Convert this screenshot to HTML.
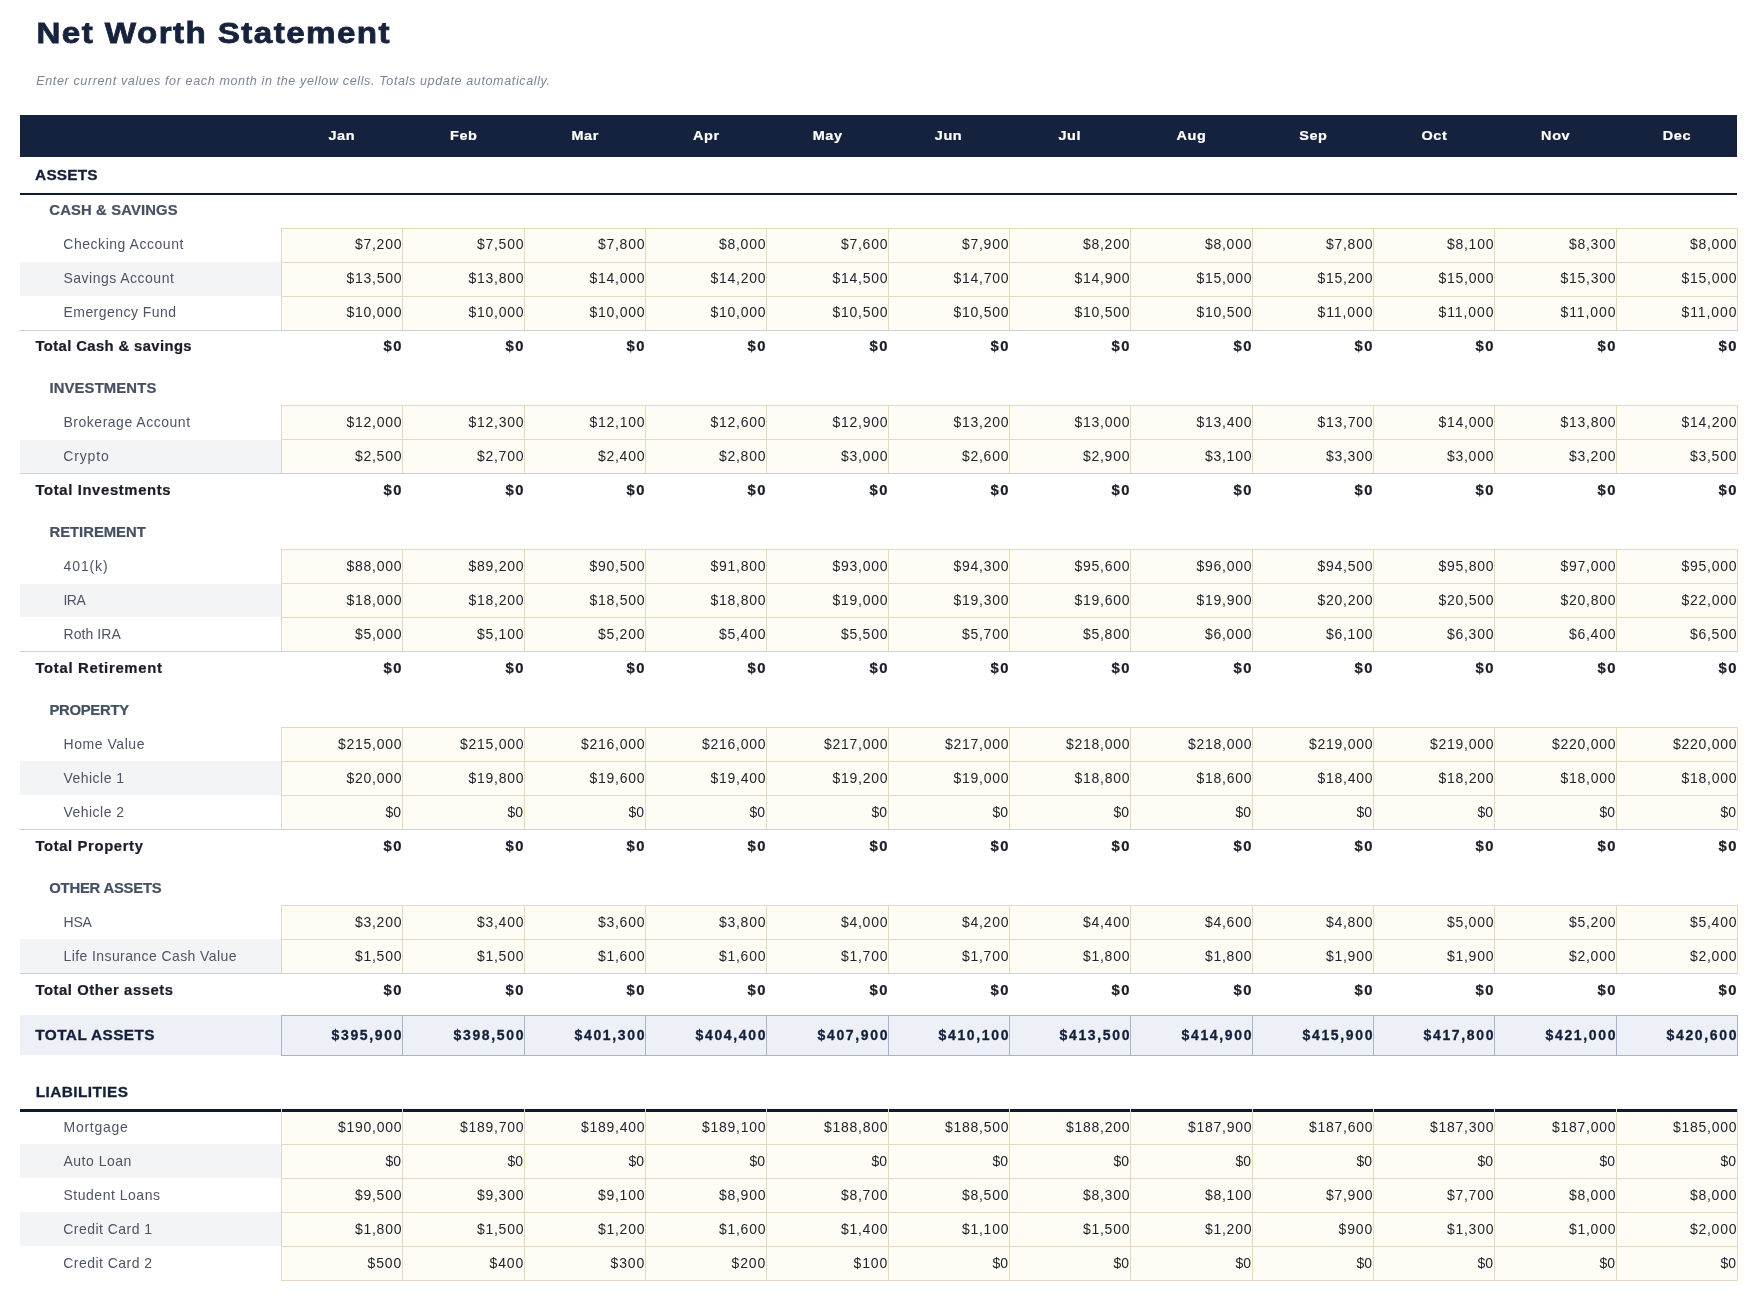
<!DOCTYPE html><html><head><meta charset="utf-8"><style>
html,body{margin:0;padding:0;background:#fff;width:1758px;height:1301px;overflow:hidden;position:relative}
div{position:absolute}
.t{white-space:pre;font-family:"Liberation Sans",sans-serif;line-height:0;height:0}
.title{font-size:29.600px;font-weight:700;font-style:normal;color:#17223d;-webkit-text-stroke:0.80px #17223d;transform-origin:0 0}
.sub{font-size:12.600px;font-weight:400;font-style:italic;color:#7b8598;-webkit-text-stroke:0.00px #7b8598}
.month{font-size:13.650px;font-weight:700;font-style:normal;color:#ffffff;-webkit-text-stroke:0.22px #ffffff;transform-origin:0 0}
.sect{font-size:15.404px;font-weight:700;font-style:normal;color:#141f3a;-webkit-text-stroke:0.30px #141f3a}
.subh{font-size:13.997px;font-weight:700;font-style:normal;color:#465063;-webkit-text-stroke:0.22px #465063;transform-origin:0 0}
.label{font-size:13.997px;font-weight:400;font-style:normal;color:#4d5464;-webkit-text-stroke:0.00px #4d5464}
.val{font-size:13.997px;font-weight:400;font-style:normal;color:#20242d;-webkit-text-stroke:0.00px #20242d}
.tlabel{font-size:13.997px;font-weight:700;font-style:normal;color:#1a1e28;-webkit-text-stroke:0.22px #1a1e28;transform-origin:0 0}
.tval{font-size:13.997px;font-weight:700;font-style:normal;color:#1a1e28;-webkit-text-stroke:0.22px #1a1e28;transform-origin:0 0}
.taval{font-size:13.997px;font-weight:700;font-style:normal;color:#141f3a;-webkit-text-stroke:0.30px #141f3a}
</style></head><body><div style="left:0;top:0;width:1758px;height:1301px;will-change:transform">
<div style="left:20px;top:115px;width:1717px;height:42px;background:#14223d"></div>
<div style="left:20px;top:193px;width:1717px;height:2px;background:#0e1933"></div>
<div style="left:281px;top:228px;width:1457px;height:34px;background:#fefcf4"></div>
<div style="left:20px;top:262px;width:261px;height:34px;background:#f3f4f6"></div>
<div style="left:281px;top:262px;width:1457px;height:34px;background:#fefcf4"></div>
<div style="left:281px;top:296px;width:1457px;height:34px;background:#fefcf4"></div>
<div style="left:281px;top:228px;width:1457px;height:1px;background:#e4dabb"></div>
<div style="left:281px;top:262px;width:1457px;height:1px;background:#e4dabb"></div>
<div style="left:281px;top:296px;width:1457px;height:1px;background:#e4dabb"></div>
<div style="left:281px;top:330px;width:1457px;height:1px;background:#e4dabb"></div>
<div style="left:281px;top:228px;width:1px;height:103px;background:#e4dabb"></div>
<div style="left:402px;top:228px;width:1px;height:103px;background:#e4dabb"></div>
<div style="left:524px;top:228px;width:1px;height:103px;background:#e4dabb"></div>
<div style="left:645px;top:228px;width:1px;height:103px;background:#e4dabb"></div>
<div style="left:766px;top:228px;width:1px;height:103px;background:#e4dabb"></div>
<div style="left:888px;top:228px;width:1px;height:103px;background:#e4dabb"></div>
<div style="left:1009px;top:228px;width:1px;height:103px;background:#e4dabb"></div>
<div style="left:1130px;top:228px;width:1px;height:103px;background:#e4dabb"></div>
<div style="left:1252px;top:228px;width:1px;height:103px;background:#e4dabb"></div>
<div style="left:1373px;top:228px;width:1px;height:103px;background:#e4dabb"></div>
<div style="left:1494px;top:228px;width:1px;height:103px;background:#e4dabb"></div>
<div style="left:1616px;top:228px;width:1px;height:103px;background:#e4dabb"></div>
<div style="left:1737px;top:228px;width:1px;height:103px;background:#e4dabb"></div>
<div style="left:20px;top:330px;width:1718px;height:1px;background:#cbd0db"></div>
<div style="left:281px;top:405px;width:1457px;height:34px;background:#fefcf4"></div>
<div style="left:20px;top:440px;width:261px;height:33px;background:#f3f4f6"></div>
<div style="left:281px;top:439px;width:1457px;height:34px;background:#fefcf4"></div>
<div style="left:281px;top:405px;width:1457px;height:1px;background:#e4dabb"></div>
<div style="left:281px;top:439px;width:1457px;height:1px;background:#e4dabb"></div>
<div style="left:281px;top:473px;width:1457px;height:1px;background:#e4dabb"></div>
<div style="left:281px;top:405px;width:1px;height:69px;background:#e4dabb"></div>
<div style="left:402px;top:405px;width:1px;height:69px;background:#e4dabb"></div>
<div style="left:524px;top:405px;width:1px;height:69px;background:#e4dabb"></div>
<div style="left:645px;top:405px;width:1px;height:69px;background:#e4dabb"></div>
<div style="left:766px;top:405px;width:1px;height:69px;background:#e4dabb"></div>
<div style="left:888px;top:405px;width:1px;height:69px;background:#e4dabb"></div>
<div style="left:1009px;top:405px;width:1px;height:69px;background:#e4dabb"></div>
<div style="left:1130px;top:405px;width:1px;height:69px;background:#e4dabb"></div>
<div style="left:1252px;top:405px;width:1px;height:69px;background:#e4dabb"></div>
<div style="left:1373px;top:405px;width:1px;height:69px;background:#e4dabb"></div>
<div style="left:1494px;top:405px;width:1px;height:69px;background:#e4dabb"></div>
<div style="left:1616px;top:405px;width:1px;height:69px;background:#e4dabb"></div>
<div style="left:1737px;top:405px;width:1px;height:69px;background:#e4dabb"></div>
<div style="left:20px;top:473px;width:1718px;height:1px;background:#cbd0db"></div>
<div style="left:281px;top:549px;width:1457px;height:34px;background:#fefcf4"></div>
<div style="left:20px;top:584px;width:261px;height:33px;background:#f3f4f6"></div>
<div style="left:281px;top:583px;width:1457px;height:34px;background:#fefcf4"></div>
<div style="left:281px;top:617px;width:1457px;height:34px;background:#fefcf4"></div>
<div style="left:281px;top:549px;width:1457px;height:1px;background:#e4dabb"></div>
<div style="left:281px;top:583px;width:1457px;height:1px;background:#e4dabb"></div>
<div style="left:281px;top:617px;width:1457px;height:1px;background:#e4dabb"></div>
<div style="left:281px;top:651px;width:1457px;height:1px;background:#e4dabb"></div>
<div style="left:281px;top:549px;width:1px;height:103px;background:#e4dabb"></div>
<div style="left:402px;top:549px;width:1px;height:103px;background:#e4dabb"></div>
<div style="left:524px;top:549px;width:1px;height:103px;background:#e4dabb"></div>
<div style="left:645px;top:549px;width:1px;height:103px;background:#e4dabb"></div>
<div style="left:766px;top:549px;width:1px;height:103px;background:#e4dabb"></div>
<div style="left:888px;top:549px;width:1px;height:103px;background:#e4dabb"></div>
<div style="left:1009px;top:549px;width:1px;height:103px;background:#e4dabb"></div>
<div style="left:1130px;top:549px;width:1px;height:103px;background:#e4dabb"></div>
<div style="left:1252px;top:549px;width:1px;height:103px;background:#e4dabb"></div>
<div style="left:1373px;top:549px;width:1px;height:103px;background:#e4dabb"></div>
<div style="left:1494px;top:549px;width:1px;height:103px;background:#e4dabb"></div>
<div style="left:1616px;top:549px;width:1px;height:103px;background:#e4dabb"></div>
<div style="left:1737px;top:549px;width:1px;height:103px;background:#e4dabb"></div>
<div style="left:20px;top:651px;width:1718px;height:1px;background:#cbd0db"></div>
<div style="left:281px;top:727px;width:1457px;height:34px;background:#fefcf4"></div>
<div style="left:20px;top:761px;width:261px;height:34px;background:#f3f4f6"></div>
<div style="left:281px;top:761px;width:1457px;height:34px;background:#fefcf4"></div>
<div style="left:281px;top:795px;width:1457px;height:34px;background:#fefcf4"></div>
<div style="left:281px;top:727px;width:1457px;height:1px;background:#e4dabb"></div>
<div style="left:281px;top:761px;width:1457px;height:1px;background:#e4dabb"></div>
<div style="left:281px;top:795px;width:1457px;height:1px;background:#e4dabb"></div>
<div style="left:281px;top:829px;width:1457px;height:1px;background:#e4dabb"></div>
<div style="left:281px;top:727px;width:1px;height:103px;background:#e4dabb"></div>
<div style="left:402px;top:727px;width:1px;height:103px;background:#e4dabb"></div>
<div style="left:524px;top:727px;width:1px;height:103px;background:#e4dabb"></div>
<div style="left:645px;top:727px;width:1px;height:103px;background:#e4dabb"></div>
<div style="left:766px;top:727px;width:1px;height:103px;background:#e4dabb"></div>
<div style="left:888px;top:727px;width:1px;height:103px;background:#e4dabb"></div>
<div style="left:1009px;top:727px;width:1px;height:103px;background:#e4dabb"></div>
<div style="left:1130px;top:727px;width:1px;height:103px;background:#e4dabb"></div>
<div style="left:1252px;top:727px;width:1px;height:103px;background:#e4dabb"></div>
<div style="left:1373px;top:727px;width:1px;height:103px;background:#e4dabb"></div>
<div style="left:1494px;top:727px;width:1px;height:103px;background:#e4dabb"></div>
<div style="left:1616px;top:727px;width:1px;height:103px;background:#e4dabb"></div>
<div style="left:1737px;top:727px;width:1px;height:103px;background:#e4dabb"></div>
<div style="left:20px;top:829px;width:1718px;height:1px;background:#cbd0db"></div>
<div style="left:281px;top:905px;width:1457px;height:34px;background:#fefcf4"></div>
<div style="left:20px;top:939px;width:261px;height:34px;background:#f3f4f6"></div>
<div style="left:281px;top:939px;width:1457px;height:34px;background:#fefcf4"></div>
<div style="left:281px;top:905px;width:1457px;height:1px;background:#e4dabb"></div>
<div style="left:281px;top:939px;width:1457px;height:1px;background:#e4dabb"></div>
<div style="left:281px;top:973px;width:1457px;height:1px;background:#e4dabb"></div>
<div style="left:281px;top:905px;width:1px;height:69px;background:#e4dabb"></div>
<div style="left:402px;top:905px;width:1px;height:69px;background:#e4dabb"></div>
<div style="left:524px;top:905px;width:1px;height:69px;background:#e4dabb"></div>
<div style="left:645px;top:905px;width:1px;height:69px;background:#e4dabb"></div>
<div style="left:766px;top:905px;width:1px;height:69px;background:#e4dabb"></div>
<div style="left:888px;top:905px;width:1px;height:69px;background:#e4dabb"></div>
<div style="left:1009px;top:905px;width:1px;height:69px;background:#e4dabb"></div>
<div style="left:1130px;top:905px;width:1px;height:69px;background:#e4dabb"></div>
<div style="left:1252px;top:905px;width:1px;height:69px;background:#e4dabb"></div>
<div style="left:1373px;top:905px;width:1px;height:69px;background:#e4dabb"></div>
<div style="left:1494px;top:905px;width:1px;height:69px;background:#e4dabb"></div>
<div style="left:1616px;top:905px;width:1px;height:69px;background:#e4dabb"></div>
<div style="left:1737px;top:905px;width:1px;height:69px;background:#e4dabb"></div>
<div style="left:20px;top:973px;width:1718px;height:1px;background:#cbd0db"></div>
<div style="left:20px;top:1015px;width:261px;height:40px;background:#edf0f7"></div>
<div style="left:281px;top:1015px;width:1457px;height:41px;background:#edf0f7"></div>
<div style="left:281px;top:1015px;width:1px;height:41px;background:#aab2cb"></div>
<div style="left:402px;top:1015px;width:1px;height:41px;background:#aab2cb"></div>
<div style="left:524px;top:1015px;width:1px;height:41px;background:#aab2cb"></div>
<div style="left:645px;top:1015px;width:1px;height:41px;background:#aab2cb"></div>
<div style="left:766px;top:1015px;width:1px;height:41px;background:#aab2cb"></div>
<div style="left:888px;top:1015px;width:1px;height:41px;background:#aab2cb"></div>
<div style="left:1009px;top:1015px;width:1px;height:41px;background:#aab2cb"></div>
<div style="left:1130px;top:1015px;width:1px;height:41px;background:#aab2cb"></div>
<div style="left:1252px;top:1015px;width:1px;height:41px;background:#aab2cb"></div>
<div style="left:1373px;top:1015px;width:1px;height:41px;background:#aab2cb"></div>
<div style="left:1494px;top:1015px;width:1px;height:41px;background:#aab2cb"></div>
<div style="left:1616px;top:1015px;width:1px;height:41px;background:#aab2cb"></div>
<div style="left:1737px;top:1015px;width:1px;height:41px;background:#aab2cb"></div>
<div style="left:281px;top:1015px;width:1457px;height:1px;background:#aab2cb"></div>
<div style="left:281px;top:1055px;width:1457px;height:1px;background:#aab2cb"></div>
<div style="left:281px;top:1110px;width:1457px;height:34px;background:#fefcf4"></div>
<div style="left:20px;top:1144px;width:261px;height:34px;background:#f3f4f6"></div>
<div style="left:281px;top:1144px;width:1457px;height:34px;background:#fefcf4"></div>
<div style="left:281px;top:1178px;width:1457px;height:34px;background:#fefcf4"></div>
<div style="left:20px;top:1212px;width:261px;height:34px;background:#f3f4f6"></div>
<div style="left:281px;top:1212px;width:1457px;height:34px;background:#fefcf4"></div>
<div style="left:281px;top:1246px;width:1457px;height:34px;background:#fefcf4"></div>
<div style="left:281px;top:1144px;width:1457px;height:1px;background:#e4dabb"></div>
<div style="left:281px;top:1178px;width:1457px;height:1px;background:#e4dabb"></div>
<div style="left:281px;top:1212px;width:1457px;height:1px;background:#e4dabb"></div>
<div style="left:281px;top:1246px;width:1457px;height:1px;background:#e4dabb"></div>
<div style="left:281px;top:1280px;width:1457px;height:1px;background:#e4dabb"></div>
<div style="left:281px;top:1110px;width:1px;height:171px;background:#e4dabb"></div>
<div style="left:402px;top:1110px;width:1px;height:171px;background:#e4dabb"></div>
<div style="left:524px;top:1110px;width:1px;height:171px;background:#e4dabb"></div>
<div style="left:645px;top:1110px;width:1px;height:171px;background:#e4dabb"></div>
<div style="left:766px;top:1110px;width:1px;height:171px;background:#e4dabb"></div>
<div style="left:888px;top:1110px;width:1px;height:171px;background:#e4dabb"></div>
<div style="left:1009px;top:1110px;width:1px;height:171px;background:#e4dabb"></div>
<div style="left:1130px;top:1110px;width:1px;height:171px;background:#e4dabb"></div>
<div style="left:1252px;top:1110px;width:1px;height:171px;background:#e4dabb"></div>
<div style="left:1373px;top:1110px;width:1px;height:171px;background:#e4dabb"></div>
<div style="left:1494px;top:1110px;width:1px;height:171px;background:#e4dabb"></div>
<div style="left:1616px;top:1110px;width:1px;height:171px;background:#e4dabb"></div>
<div style="left:1737px;top:1110px;width:1px;height:171px;background:#e4dabb"></div>
<div style="left:20px;top:1109px;width:1718px;height:3px;background:#0e1933"></div>
<div style="left:281px;top:1109px;width:1px;height:3px;background:#e4dabb"></div>
<div style="left:402px;top:1109px;width:1px;height:3px;background:#e4dabb"></div>
<div style="left:524px;top:1109px;width:1px;height:3px;background:#e4dabb"></div>
<div style="left:645px;top:1109px;width:1px;height:3px;background:#e4dabb"></div>
<div style="left:766px;top:1109px;width:1px;height:3px;background:#e4dabb"></div>
<div style="left:888px;top:1109px;width:1px;height:3px;background:#e4dabb"></div>
<div style="left:1009px;top:1109px;width:1px;height:3px;background:#e4dabb"></div>
<div style="left:1130px;top:1109px;width:1px;height:3px;background:#e4dabb"></div>
<div style="left:1252px;top:1109px;width:1px;height:3px;background:#e4dabb"></div>
<div style="left:1373px;top:1109px;width:1px;height:3px;background:#e4dabb"></div>
<div style="left:1494px;top:1109px;width:1px;height:3px;background:#e4dabb"></div>
<div style="left:1616px;top:1109px;width:1px;height:3px;background:#e4dabb"></div>
<div style="left:1737px;top:1109px;width:1px;height:3px;background:#e4dabb"></div>
<div class="t title" style="left:36px;top:32.74px;letter-spacing:1.282px;transform:translateX(0.48px) scaleX(1.12)">Net Worth Statement</div>
<div class="t sub" style="left:36.19px;top:80.63px;letter-spacing:0.601px">Enter current values for each month in the yellow cells. Totals update automatically.</div>
<div class="t month" style="left:328px;top:136.27px;letter-spacing:0.565px;transform:translateX(0.47px) scaleX(1.06)">Jan</div>
<div class="t month" style="left:450px;top:136.27px;letter-spacing:0.565px;transform:translateX(0.05px) scaleX(1.06)">Feb</div>
<div class="t month" style="left:571px;top:136.27px;letter-spacing:0.565px;transform:translateX(0.40px) scaleX(1.06)">Mar</div>
<div class="t month" style="left:692px;top:136.27px;letter-spacing:0.565px;transform:translateX(0.91px) scaleX(1.06)">Apr</div>
<div class="t month" style="left:812px;top:136.27px;letter-spacing:0.565px;transform:translateX(0.72px) scaleX(1.06)">May</div>
<div class="t month" style="left:934px;top:136.27px;letter-spacing:0.565px;transform:translateX(0.74px) scaleX(1.06)">Jun</div>
<div class="t month" style="left:1058px;top:136.27px;letter-spacing:0.565px;transform:translateX(0.46px) scaleX(1.06)">Jul</div>
<div class="t month" style="left:1176px;top:136.27px;letter-spacing:0.565px;transform:translateX(0.53px) scaleX(1.06)">Aug</div>
<div class="t month" style="left:1299px;top:136.27px;letter-spacing:0.565px;transform:translateX(0.20px) scaleX(1.06)">Sep</div>
<div class="t month" style="left:1421px;top:136.27px;letter-spacing:0.565px;transform:translateX(0.42px) scaleX(1.06)">Oct</div>
<div class="t month" style="left:1541px;top:136.27px;letter-spacing:0.565px;transform:translateX(0.12px) scaleX(1.06)">Nov</div>
<div class="t month" style="left:1662px;top:136.27px;letter-spacing:0.565px;transform:translateX(0.75px) scaleX(1.06)">Dec</div>
<div class="t sect" style="left:35.10px;top:174.66px;letter-spacing:0.185px">ASSETS</div>
<div class="t subh" style="left:49px;top:210.15px;letter-spacing:0.127px;transform:translateX(0.31px) scaleX(1.06)">CASH &amp; SAVINGS</div>
<div class="t label" style="left:63.29px;top:244.15px;letter-spacing:0.542px">Checking Account</div>
<div class="t val" style="left:354.91px;top:244.15px;letter-spacing:0.753px">$7,200</div>
<div class="t val" style="left:476.91px;top:244.15px;letter-spacing:0.753px">$7,500</div>
<div class="t val" style="left:597.91px;top:244.15px;letter-spacing:0.753px">$7,800</div>
<div class="t val" style="left:718.91px;top:244.15px;letter-spacing:0.753px">$8,000</div>
<div class="t val" style="left:840.91px;top:244.15px;letter-spacing:0.753px">$7,600</div>
<div class="t val" style="left:961.91px;top:244.15px;letter-spacing:0.753px">$7,900</div>
<div class="t val" style="left:1082.91px;top:244.15px;letter-spacing:0.753px">$8,200</div>
<div class="t val" style="left:1204.91px;top:244.15px;letter-spacing:0.753px">$8,000</div>
<div class="t val" style="left:1325.91px;top:244.15px;letter-spacing:0.753px">$7,800</div>
<div class="t val" style="left:1446.91px;top:244.15px;letter-spacing:0.753px">$8,100</div>
<div class="t val" style="left:1568.91px;top:244.15px;letter-spacing:0.753px">$8,300</div>
<div class="t val" style="left:1689.91px;top:244.15px;letter-spacing:0.753px">$8,000</div>
<div class="t label" style="left:63.49px;top:278.15px;letter-spacing:0.494px">Savings Account</div>
<div class="t val" style="left:346.43px;top:278.15px;letter-spacing:0.761px">$13,500</div>
<div class="t val" style="left:468.43px;top:278.15px;letter-spacing:0.761px">$13,800</div>
<div class="t val" style="left:589.43px;top:278.15px;letter-spacing:0.761px">$14,000</div>
<div class="t val" style="left:710.43px;top:278.15px;letter-spacing:0.761px">$14,200</div>
<div class="t val" style="left:832.43px;top:278.15px;letter-spacing:0.761px">$14,500</div>
<div class="t val" style="left:953.43px;top:278.15px;letter-spacing:0.761px">$14,700</div>
<div class="t val" style="left:1074.43px;top:278.15px;letter-spacing:0.761px">$14,900</div>
<div class="t val" style="left:1196.43px;top:278.15px;letter-spacing:0.761px">$15,000</div>
<div class="t val" style="left:1317.43px;top:278.15px;letter-spacing:0.761px">$15,200</div>
<div class="t val" style="left:1438.43px;top:278.15px;letter-spacing:0.761px">$15,000</div>
<div class="t val" style="left:1560.43px;top:278.15px;letter-spacing:0.761px">$15,300</div>
<div class="t val" style="left:1681.43px;top:278.15px;letter-spacing:0.761px">$15,000</div>
<div class="t label" style="left:63.49px;top:312.15px;letter-spacing:0.461px">Emergency Fund</div>
<div class="t val" style="left:346.43px;top:312.15px;letter-spacing:0.761px">$10,000</div>
<div class="t val" style="left:468.43px;top:312.15px;letter-spacing:0.761px">$10,000</div>
<div class="t val" style="left:589.43px;top:312.15px;letter-spacing:0.761px">$10,000</div>
<div class="t val" style="left:710.43px;top:312.15px;letter-spacing:0.761px">$10,000</div>
<div class="t val" style="left:832.43px;top:312.15px;letter-spacing:0.761px">$10,500</div>
<div class="t val" style="left:953.43px;top:312.15px;letter-spacing:0.761px">$10,500</div>
<div class="t val" style="left:1074.43px;top:312.15px;letter-spacing:0.761px">$10,500</div>
<div class="t val" style="left:1196.43px;top:312.15px;letter-spacing:0.761px">$10,500</div>
<div class="t val" style="left:1317.43px;top:312.15px;letter-spacing:0.934px">$11,000</div>
<div class="t val" style="left:1438.43px;top:312.15px;letter-spacing:0.934px">$11,000</div>
<div class="t val" style="left:1560.43px;top:312.15px;letter-spacing:0.934px">$11,000</div>
<div class="t val" style="left:1681.43px;top:312.15px;letter-spacing:0.934px">$11,000</div>
<div class="t tlabel" style="left:35px;top:346.15px;letter-spacing:0.367px;transform:translateX(0.40px) scaleX(1.06)">Total Cash &amp; savings</div>
<div class="t tval" style="left:383px;top:346.15px;letter-spacing:1.282px;transform:translateX(0.62px) scaleX(1.06)">$0</div>
<div class="t tval" style="left:505px;top:346.15px;letter-spacing:1.282px;transform:translateX(0.62px) scaleX(1.06)">$0</div>
<div class="t tval" style="left:626px;top:346.15px;letter-spacing:1.282px;transform:translateX(0.62px) scaleX(1.06)">$0</div>
<div class="t tval" style="left:747px;top:346.15px;letter-spacing:1.282px;transform:translateX(0.62px) scaleX(1.06)">$0</div>
<div class="t tval" style="left:869px;top:346.15px;letter-spacing:1.282px;transform:translateX(0.62px) scaleX(1.06)">$0</div>
<div class="t tval" style="left:990px;top:346.15px;letter-spacing:1.282px;transform:translateX(0.62px) scaleX(1.06)">$0</div>
<div class="t tval" style="left:1111px;top:346.15px;letter-spacing:1.282px;transform:translateX(0.62px) scaleX(1.06)">$0</div>
<div class="t tval" style="left:1233px;top:346.15px;letter-spacing:1.282px;transform:translateX(0.62px) scaleX(1.06)">$0</div>
<div class="t tval" style="left:1354px;top:346.15px;letter-spacing:1.282px;transform:translateX(0.62px) scaleX(1.06)">$0</div>
<div class="t tval" style="left:1475px;top:346.15px;letter-spacing:1.282px;transform:translateX(0.62px) scaleX(1.06)">$0</div>
<div class="t tval" style="left:1597px;top:346.15px;letter-spacing:1.282px;transform:translateX(0.62px) scaleX(1.06)">$0</div>
<div class="t tval" style="left:1718px;top:346.15px;letter-spacing:1.282px;transform:translateX(0.62px) scaleX(1.06)">$0</div>
<div class="t subh" style="left:49px;top:388.15px;letter-spacing:0.129px;transform:translateX(0.48px) scaleX(1.06)">INVESTMENTS</div>
<div class="t label" style="left:63.49px;top:422.15px;letter-spacing:0.524px">Brokerage Account</div>
<div class="t val" style="left:346.43px;top:422.15px;letter-spacing:0.761px">$12,000</div>
<div class="t val" style="left:468.43px;top:422.15px;letter-spacing:0.761px">$12,300</div>
<div class="t val" style="left:589.43px;top:422.15px;letter-spacing:0.761px">$12,100</div>
<div class="t val" style="left:710.43px;top:422.15px;letter-spacing:0.761px">$12,600</div>
<div class="t val" style="left:832.43px;top:422.15px;letter-spacing:0.761px">$12,900</div>
<div class="t val" style="left:953.43px;top:422.15px;letter-spacing:0.761px">$13,200</div>
<div class="t val" style="left:1074.43px;top:422.15px;letter-spacing:0.761px">$13,000</div>
<div class="t val" style="left:1196.43px;top:422.15px;letter-spacing:0.761px">$13,400</div>
<div class="t val" style="left:1317.43px;top:422.15px;letter-spacing:0.761px">$13,700</div>
<div class="t val" style="left:1438.43px;top:422.15px;letter-spacing:0.761px">$14,000</div>
<div class="t val" style="left:1560.43px;top:422.15px;letter-spacing:0.761px">$13,800</div>
<div class="t val" style="left:1681.43px;top:422.15px;letter-spacing:0.761px">$14,200</div>
<div class="t label" style="left:63.29px;top:456.15px;letter-spacing:0.846px">Crypto</div>
<div class="t val" style="left:354.91px;top:456.15px;letter-spacing:0.753px">$2,500</div>
<div class="t val" style="left:476.91px;top:456.15px;letter-spacing:0.753px">$2,700</div>
<div class="t val" style="left:597.91px;top:456.15px;letter-spacing:0.753px">$2,400</div>
<div class="t val" style="left:718.91px;top:456.15px;letter-spacing:0.753px">$2,800</div>
<div class="t val" style="left:840.91px;top:456.15px;letter-spacing:0.753px">$3,000</div>
<div class="t val" style="left:961.91px;top:456.15px;letter-spacing:0.753px">$2,600</div>
<div class="t val" style="left:1082.91px;top:456.15px;letter-spacing:0.753px">$2,900</div>
<div class="t val" style="left:1204.91px;top:456.15px;letter-spacing:0.753px">$3,100</div>
<div class="t val" style="left:1325.91px;top:456.15px;letter-spacing:0.753px">$3,300</div>
<div class="t val" style="left:1446.91px;top:456.15px;letter-spacing:0.753px">$3,000</div>
<div class="t val" style="left:1568.91px;top:456.15px;letter-spacing:0.753px">$3,200</div>
<div class="t val" style="left:1689.91px;top:456.15px;letter-spacing:0.753px">$3,500</div>
<div class="t tlabel" style="left:35px;top:490.15px;letter-spacing:0.603px;transform:translateX(0.40px) scaleX(1.06)">Total Investments</div>
<div class="t tval" style="left:383px;top:490.15px;letter-spacing:1.282px;transform:translateX(0.62px) scaleX(1.06)">$0</div>
<div class="t tval" style="left:505px;top:490.15px;letter-spacing:1.282px;transform:translateX(0.62px) scaleX(1.06)">$0</div>
<div class="t tval" style="left:626px;top:490.15px;letter-spacing:1.282px;transform:translateX(0.62px) scaleX(1.06)">$0</div>
<div class="t tval" style="left:747px;top:490.15px;letter-spacing:1.282px;transform:translateX(0.62px) scaleX(1.06)">$0</div>
<div class="t tval" style="left:869px;top:490.15px;letter-spacing:1.282px;transform:translateX(0.62px) scaleX(1.06)">$0</div>
<div class="t tval" style="left:990px;top:490.15px;letter-spacing:1.282px;transform:translateX(0.62px) scaleX(1.06)">$0</div>
<div class="t tval" style="left:1111px;top:490.15px;letter-spacing:1.282px;transform:translateX(0.62px) scaleX(1.06)">$0</div>
<div class="t tval" style="left:1233px;top:490.15px;letter-spacing:1.282px;transform:translateX(0.62px) scaleX(1.06)">$0</div>
<div class="t tval" style="left:1354px;top:490.15px;letter-spacing:1.282px;transform:translateX(0.62px) scaleX(1.06)">$0</div>
<div class="t tval" style="left:1475px;top:490.15px;letter-spacing:1.282px;transform:translateX(0.62px) scaleX(1.06)">$0</div>
<div class="t tval" style="left:1597px;top:490.15px;letter-spacing:1.282px;transform:translateX(0.62px) scaleX(1.06)">$0</div>
<div class="t tval" style="left:1718px;top:490.15px;letter-spacing:1.282px;transform:translateX(0.62px) scaleX(1.06)">$0</div>
<div class="t subh" style="left:49px;top:532.15px;letter-spacing:-0.012px;transform:translateX(0.48px) scaleX(1.06)">RETIREMENT</div>
<div class="t label" style="left:63.59px;top:566.15px;letter-spacing:0.871px">401(k)</div>
<div class="t val" style="left:346.43px;top:566.15px;letter-spacing:0.761px">$88,000</div>
<div class="t val" style="left:468.43px;top:566.15px;letter-spacing:0.761px">$89,200</div>
<div class="t val" style="left:589.43px;top:566.15px;letter-spacing:0.761px">$90,500</div>
<div class="t val" style="left:710.43px;top:566.15px;letter-spacing:0.761px">$91,800</div>
<div class="t val" style="left:832.43px;top:566.15px;letter-spacing:0.761px">$93,000</div>
<div class="t val" style="left:953.43px;top:566.15px;letter-spacing:0.761px">$94,300</div>
<div class="t val" style="left:1074.43px;top:566.15px;letter-spacing:0.761px">$95,600</div>
<div class="t val" style="left:1196.43px;top:566.15px;letter-spacing:0.761px">$96,000</div>
<div class="t val" style="left:1317.43px;top:566.15px;letter-spacing:0.761px">$94,500</div>
<div class="t val" style="left:1438.43px;top:566.15px;letter-spacing:0.761px">$95,800</div>
<div class="t val" style="left:1560.43px;top:566.15px;letter-spacing:0.761px">$97,000</div>
<div class="t val" style="left:1681.43px;top:566.15px;letter-spacing:0.761px">$95,000</div>
<div class="t label" style="left:63.39px;top:600.15px;letter-spacing:-0.431px">IRA</div>
<div class="t val" style="left:346.43px;top:600.15px;letter-spacing:0.761px">$18,000</div>
<div class="t val" style="left:468.43px;top:600.15px;letter-spacing:0.761px">$18,200</div>
<div class="t val" style="left:589.43px;top:600.15px;letter-spacing:0.761px">$18,500</div>
<div class="t val" style="left:710.43px;top:600.15px;letter-spacing:0.761px">$18,800</div>
<div class="t val" style="left:832.43px;top:600.15px;letter-spacing:0.761px">$19,000</div>
<div class="t val" style="left:953.43px;top:600.15px;letter-spacing:0.761px">$19,300</div>
<div class="t val" style="left:1074.43px;top:600.15px;letter-spacing:0.761px">$19,600</div>
<div class="t val" style="left:1196.43px;top:600.15px;letter-spacing:0.761px">$19,900</div>
<div class="t val" style="left:1317.43px;top:600.15px;letter-spacing:0.761px">$20,200</div>
<div class="t val" style="left:1438.43px;top:600.15px;letter-spacing:0.761px">$20,500</div>
<div class="t val" style="left:1560.43px;top:600.15px;letter-spacing:0.761px">$20,800</div>
<div class="t val" style="left:1681.43px;top:600.15px;letter-spacing:0.761px">$22,000</div>
<div class="t label" style="left:63.49px;top:634.15px;letter-spacing:0.074px">Roth IRA</div>
<div class="t val" style="left:354.91px;top:634.15px;letter-spacing:0.753px">$5,000</div>
<div class="t val" style="left:476.91px;top:634.15px;letter-spacing:0.753px">$5,100</div>
<div class="t val" style="left:597.91px;top:634.15px;letter-spacing:0.753px">$5,200</div>
<div class="t val" style="left:718.91px;top:634.15px;letter-spacing:0.753px">$5,400</div>
<div class="t val" style="left:840.91px;top:634.15px;letter-spacing:0.753px">$5,500</div>
<div class="t val" style="left:961.91px;top:634.15px;letter-spacing:0.753px">$5,700</div>
<div class="t val" style="left:1082.91px;top:634.15px;letter-spacing:0.753px">$5,800</div>
<div class="t val" style="left:1204.91px;top:634.15px;letter-spacing:0.753px">$6,000</div>
<div class="t val" style="left:1325.91px;top:634.15px;letter-spacing:0.753px">$6,100</div>
<div class="t val" style="left:1446.91px;top:634.15px;letter-spacing:0.753px">$6,300</div>
<div class="t val" style="left:1568.91px;top:634.15px;letter-spacing:0.753px">$6,400</div>
<div class="t val" style="left:1689.91px;top:634.15px;letter-spacing:0.753px">$6,500</div>
<div class="t tlabel" style="left:35px;top:668.15px;letter-spacing:0.670px;transform:translateX(0.40px) scaleX(1.06)">Total Retirement</div>
<div class="t tval" style="left:383px;top:668.15px;letter-spacing:1.282px;transform:translateX(0.62px) scaleX(1.06)">$0</div>
<div class="t tval" style="left:505px;top:668.15px;letter-spacing:1.282px;transform:translateX(0.62px) scaleX(1.06)">$0</div>
<div class="t tval" style="left:626px;top:668.15px;letter-spacing:1.282px;transform:translateX(0.62px) scaleX(1.06)">$0</div>
<div class="t tval" style="left:747px;top:668.15px;letter-spacing:1.282px;transform:translateX(0.62px) scaleX(1.06)">$0</div>
<div class="t tval" style="left:869px;top:668.15px;letter-spacing:1.282px;transform:translateX(0.62px) scaleX(1.06)">$0</div>
<div class="t tval" style="left:990px;top:668.15px;letter-spacing:1.282px;transform:translateX(0.62px) scaleX(1.06)">$0</div>
<div class="t tval" style="left:1111px;top:668.15px;letter-spacing:1.282px;transform:translateX(0.62px) scaleX(1.06)">$0</div>
<div class="t tval" style="left:1233px;top:668.15px;letter-spacing:1.282px;transform:translateX(0.62px) scaleX(1.06)">$0</div>
<div class="t tval" style="left:1354px;top:668.15px;letter-spacing:1.282px;transform:translateX(0.62px) scaleX(1.06)">$0</div>
<div class="t tval" style="left:1475px;top:668.15px;letter-spacing:1.282px;transform:translateX(0.62px) scaleX(1.06)">$0</div>
<div class="t tval" style="left:1597px;top:668.15px;letter-spacing:1.282px;transform:translateX(0.62px) scaleX(1.06)">$0</div>
<div class="t tval" style="left:1718px;top:668.15px;letter-spacing:1.282px;transform:translateX(0.62px) scaleX(1.06)">$0</div>
<div class="t subh" style="left:49px;top:710.15px;letter-spacing:-0.265px;transform:translateX(0.48px) scaleX(1.06)">PROPERTY</div>
<div class="t label" style="left:63.49px;top:744.15px;letter-spacing:0.564px">Home Value</div>
<div class="t val" style="left:337.95px;top:744.15px;letter-spacing:0.767px">$215,000</div>
<div class="t val" style="left:459.95px;top:744.15px;letter-spacing:0.767px">$215,000</div>
<div class="t val" style="left:580.95px;top:744.15px;letter-spacing:0.767px">$216,000</div>
<div class="t val" style="left:701.95px;top:744.15px;letter-spacing:0.767px">$216,000</div>
<div class="t val" style="left:823.95px;top:744.15px;letter-spacing:0.767px">$217,000</div>
<div class="t val" style="left:944.95px;top:744.15px;letter-spacing:0.767px">$217,000</div>
<div class="t val" style="left:1065.95px;top:744.15px;letter-spacing:0.767px">$218,000</div>
<div class="t val" style="left:1187.95px;top:744.15px;letter-spacing:0.767px">$218,000</div>
<div class="t val" style="left:1308.95px;top:744.15px;letter-spacing:0.767px">$219,000</div>
<div class="t val" style="left:1429.95px;top:744.15px;letter-spacing:0.767px">$219,000</div>
<div class="t val" style="left:1551.95px;top:744.15px;letter-spacing:0.767px">$220,000</div>
<div class="t val" style="left:1672.95px;top:744.15px;letter-spacing:0.767px">$220,000</div>
<div class="t label" style="left:63.39px;top:778.15px;letter-spacing:0.501px">Vehicle 1</div>
<div class="t val" style="left:346.43px;top:778.15px;letter-spacing:0.761px">$20,000</div>
<div class="t val" style="left:468.43px;top:778.15px;letter-spacing:0.761px">$19,800</div>
<div class="t val" style="left:589.43px;top:778.15px;letter-spacing:0.761px">$19,600</div>
<div class="t val" style="left:710.43px;top:778.15px;letter-spacing:0.761px">$19,400</div>
<div class="t val" style="left:832.43px;top:778.15px;letter-spacing:0.761px">$19,200</div>
<div class="t val" style="left:953.43px;top:778.15px;letter-spacing:0.761px">$19,000</div>
<div class="t val" style="left:1074.43px;top:778.15px;letter-spacing:0.761px">$18,800</div>
<div class="t val" style="left:1196.43px;top:778.15px;letter-spacing:0.761px">$18,600</div>
<div class="t val" style="left:1317.43px;top:778.15px;letter-spacing:0.761px">$18,400</div>
<div class="t val" style="left:1438.43px;top:778.15px;letter-spacing:0.761px">$18,200</div>
<div class="t val" style="left:1560.43px;top:778.15px;letter-spacing:0.761px">$18,000</div>
<div class="t val" style="left:1681.43px;top:778.15px;letter-spacing:0.761px">$18,000</div>
<div class="t label" style="left:63.39px;top:812.15px;letter-spacing:0.501px">Vehicle 2</div>
<div class="t val" style="left:385.39px;top:812.15px;letter-spacing:0.103px">$0</div>
<div class="t val" style="left:507.39px;top:812.15px;letter-spacing:0.103px">$0</div>
<div class="t val" style="left:628.39px;top:812.15px;letter-spacing:0.103px">$0</div>
<div class="t val" style="left:749.39px;top:812.15px;letter-spacing:0.103px">$0</div>
<div class="t val" style="left:871.39px;top:812.15px;letter-spacing:0.103px">$0</div>
<div class="t val" style="left:992.39px;top:812.15px;letter-spacing:0.103px">$0</div>
<div class="t val" style="left:1113.39px;top:812.15px;letter-spacing:0.103px">$0</div>
<div class="t val" style="left:1235.39px;top:812.15px;letter-spacing:0.103px">$0</div>
<div class="t val" style="left:1356.39px;top:812.15px;letter-spacing:0.103px">$0</div>
<div class="t val" style="left:1477.39px;top:812.15px;letter-spacing:0.103px">$0</div>
<div class="t val" style="left:1599.39px;top:812.15px;letter-spacing:0.103px">$0</div>
<div class="t val" style="left:1720.39px;top:812.15px;letter-spacing:0.103px">$0</div>
<div class="t tlabel" style="left:35px;top:846.15px;letter-spacing:0.588px;transform:translateX(0.40px) scaleX(1.06)">Total Property</div>
<div class="t tval" style="left:383px;top:846.15px;letter-spacing:1.282px;transform:translateX(0.62px) scaleX(1.06)">$0</div>
<div class="t tval" style="left:505px;top:846.15px;letter-spacing:1.282px;transform:translateX(0.62px) scaleX(1.06)">$0</div>
<div class="t tval" style="left:626px;top:846.15px;letter-spacing:1.282px;transform:translateX(0.62px) scaleX(1.06)">$0</div>
<div class="t tval" style="left:747px;top:846.15px;letter-spacing:1.282px;transform:translateX(0.62px) scaleX(1.06)">$0</div>
<div class="t tval" style="left:869px;top:846.15px;letter-spacing:1.282px;transform:translateX(0.62px) scaleX(1.06)">$0</div>
<div class="t tval" style="left:990px;top:846.15px;letter-spacing:1.282px;transform:translateX(0.62px) scaleX(1.06)">$0</div>
<div class="t tval" style="left:1111px;top:846.15px;letter-spacing:1.282px;transform:translateX(0.62px) scaleX(1.06)">$0</div>
<div class="t tval" style="left:1233px;top:846.15px;letter-spacing:1.282px;transform:translateX(0.62px) scaleX(1.06)">$0</div>
<div class="t tval" style="left:1354px;top:846.15px;letter-spacing:1.282px;transform:translateX(0.62px) scaleX(1.06)">$0</div>
<div class="t tval" style="left:1475px;top:846.15px;letter-spacing:1.282px;transform:translateX(0.62px) scaleX(1.06)">$0</div>
<div class="t tval" style="left:1597px;top:846.15px;letter-spacing:1.282px;transform:translateX(0.62px) scaleX(1.06)">$0</div>
<div class="t tval" style="left:1718px;top:846.15px;letter-spacing:1.282px;transform:translateX(0.62px) scaleX(1.06)">$0</div>
<div class="t subh" style="left:49px;top:888.15px;letter-spacing:-0.212px;transform:translateX(0.31px) scaleX(1.06)">OTHER ASSETS</div>
<div class="t label" style="left:63.49px;top:922.15px;letter-spacing:-0.165px">HSA</div>
<div class="t val" style="left:354.91px;top:922.15px;letter-spacing:0.753px">$3,200</div>
<div class="t val" style="left:476.91px;top:922.15px;letter-spacing:0.753px">$3,400</div>
<div class="t val" style="left:597.91px;top:922.15px;letter-spacing:0.753px">$3,600</div>
<div class="t val" style="left:718.91px;top:922.15px;letter-spacing:0.753px">$3,800</div>
<div class="t val" style="left:840.91px;top:922.15px;letter-spacing:0.753px">$4,000</div>
<div class="t val" style="left:961.91px;top:922.15px;letter-spacing:0.753px">$4,200</div>
<div class="t val" style="left:1082.91px;top:922.15px;letter-spacing:0.753px">$4,400</div>
<div class="t val" style="left:1204.91px;top:922.15px;letter-spacing:0.753px">$4,600</div>
<div class="t val" style="left:1325.91px;top:922.15px;letter-spacing:0.753px">$4,800</div>
<div class="t val" style="left:1446.91px;top:922.15px;letter-spacing:0.753px">$5,000</div>
<div class="t val" style="left:1568.91px;top:922.15px;letter-spacing:0.753px">$5,200</div>
<div class="t val" style="left:1689.91px;top:922.15px;letter-spacing:0.753px">$5,400</div>
<div class="t label" style="left:63.49px;top:956.15px;letter-spacing:0.414px">Life Insurance Cash Value</div>
<div class="t val" style="left:354.91px;top:956.15px;letter-spacing:0.753px">$1,500</div>
<div class="t val" style="left:476.91px;top:956.15px;letter-spacing:0.753px">$1,500</div>
<div class="t val" style="left:597.91px;top:956.15px;letter-spacing:0.753px">$1,600</div>
<div class="t val" style="left:718.91px;top:956.15px;letter-spacing:0.753px">$1,600</div>
<div class="t val" style="left:840.91px;top:956.15px;letter-spacing:0.753px">$1,700</div>
<div class="t val" style="left:961.91px;top:956.15px;letter-spacing:0.753px">$1,700</div>
<div class="t val" style="left:1082.91px;top:956.15px;letter-spacing:0.753px">$1,800</div>
<div class="t val" style="left:1204.91px;top:956.15px;letter-spacing:0.753px">$1,800</div>
<div class="t val" style="left:1325.91px;top:956.15px;letter-spacing:0.753px">$1,900</div>
<div class="t val" style="left:1446.91px;top:956.15px;letter-spacing:0.753px">$1,900</div>
<div class="t val" style="left:1568.91px;top:956.15px;letter-spacing:0.753px">$2,000</div>
<div class="t val" style="left:1689.91px;top:956.15px;letter-spacing:0.753px">$2,000</div>
<div class="t tlabel" style="left:35px;top:990.15px;letter-spacing:0.520px;transform:translateX(0.40px) scaleX(1.06)">Total Other assets</div>
<div class="t tval" style="left:383px;top:990.15px;letter-spacing:1.282px;transform:translateX(0.62px) scaleX(1.06)">$0</div>
<div class="t tval" style="left:505px;top:990.15px;letter-spacing:1.282px;transform:translateX(0.62px) scaleX(1.06)">$0</div>
<div class="t tval" style="left:626px;top:990.15px;letter-spacing:1.282px;transform:translateX(0.62px) scaleX(1.06)">$0</div>
<div class="t tval" style="left:747px;top:990.15px;letter-spacing:1.282px;transform:translateX(0.62px) scaleX(1.06)">$0</div>
<div class="t tval" style="left:869px;top:990.15px;letter-spacing:1.282px;transform:translateX(0.62px) scaleX(1.06)">$0</div>
<div class="t tval" style="left:990px;top:990.15px;letter-spacing:1.282px;transform:translateX(0.62px) scaleX(1.06)">$0</div>
<div class="t tval" style="left:1111px;top:990.15px;letter-spacing:1.282px;transform:translateX(0.62px) scaleX(1.06)">$0</div>
<div class="t tval" style="left:1233px;top:990.15px;letter-spacing:1.282px;transform:translateX(0.62px) scaleX(1.06)">$0</div>
<div class="t tval" style="left:1354px;top:990.15px;letter-spacing:1.282px;transform:translateX(0.62px) scaleX(1.06)">$0</div>
<div class="t tval" style="left:1475px;top:990.15px;letter-spacing:1.282px;transform:translateX(0.62px) scaleX(1.06)">$0</div>
<div class="t tval" style="left:1597px;top:990.15px;letter-spacing:1.282px;transform:translateX(0.62px) scaleX(1.06)">$0</div>
<div class="t tval" style="left:1718px;top:990.15px;letter-spacing:1.282px;transform:translateX(0.62px) scaleX(1.06)">$0</div>
<div class="t sect" style="left:35.30px;top:1034.66px;letter-spacing:0.404px">TOTAL ASSETS</div>
<div class="t taval" style="left:331.53px;top:1035.15px;letter-spacing:1.656px">$395,900</div>
<div class="t taval" style="left:453.53px;top:1035.15px;letter-spacing:1.656px">$398,500</div>
<div class="t taval" style="left:574.53px;top:1035.15px;letter-spacing:1.656px">$401,300</div>
<div class="t taval" style="left:695.53px;top:1035.15px;letter-spacing:1.656px">$404,400</div>
<div class="t taval" style="left:817.53px;top:1035.15px;letter-spacing:1.656px">$407,900</div>
<div class="t taval" style="left:938.53px;top:1035.15px;letter-spacing:1.656px">$410,100</div>
<div class="t taval" style="left:1059.53px;top:1035.15px;letter-spacing:1.656px">$413,500</div>
<div class="t taval" style="left:1181.53px;top:1035.15px;letter-spacing:1.656px">$414,900</div>
<div class="t taval" style="left:1302.53px;top:1035.15px;letter-spacing:1.656px">$415,900</div>
<div class="t taval" style="left:1423.53px;top:1035.15px;letter-spacing:1.656px">$417,800</div>
<div class="t taval" style="left:1545.53px;top:1035.15px;letter-spacing:1.656px">$421,000</div>
<div class="t taval" style="left:1666.53px;top:1035.15px;letter-spacing:1.656px">$420,600</div>
<div class="t sect" style="left:35.70px;top:1091.66px;letter-spacing:0.419px">LIABILITIES</div>
<div class="t label" style="left:63.49px;top:1127.15px;letter-spacing:0.756px">Mortgage</div>
<div class="t val" style="left:337.95px;top:1127.15px;letter-spacing:0.767px">$190,000</div>
<div class="t val" style="left:459.95px;top:1127.15px;letter-spacing:0.767px">$189,700</div>
<div class="t val" style="left:580.95px;top:1127.15px;letter-spacing:0.767px">$189,400</div>
<div class="t val" style="left:701.95px;top:1127.15px;letter-spacing:0.767px">$189,100</div>
<div class="t val" style="left:823.95px;top:1127.15px;letter-spacing:0.767px">$188,800</div>
<div class="t val" style="left:944.95px;top:1127.15px;letter-spacing:0.767px">$188,500</div>
<div class="t val" style="left:1065.95px;top:1127.15px;letter-spacing:0.767px">$188,200</div>
<div class="t val" style="left:1187.95px;top:1127.15px;letter-spacing:0.767px">$187,900</div>
<div class="t val" style="left:1308.95px;top:1127.15px;letter-spacing:0.767px">$187,600</div>
<div class="t val" style="left:1429.95px;top:1127.15px;letter-spacing:0.767px">$187,300</div>
<div class="t val" style="left:1551.95px;top:1127.15px;letter-spacing:0.767px">$187,000</div>
<div class="t val" style="left:1672.95px;top:1127.15px;letter-spacing:0.767px">$185,000</div>
<div class="t label" style="left:63.39px;top:1161.15px;letter-spacing:0.524px">Auto Loan</div>
<div class="t val" style="left:385.39px;top:1161.15px;letter-spacing:0.103px">$0</div>
<div class="t val" style="left:507.39px;top:1161.15px;letter-spacing:0.103px">$0</div>
<div class="t val" style="left:628.39px;top:1161.15px;letter-spacing:0.103px">$0</div>
<div class="t val" style="left:749.39px;top:1161.15px;letter-spacing:0.103px">$0</div>
<div class="t val" style="left:871.39px;top:1161.15px;letter-spacing:0.103px">$0</div>
<div class="t val" style="left:992.39px;top:1161.15px;letter-spacing:0.103px">$0</div>
<div class="t val" style="left:1113.39px;top:1161.15px;letter-spacing:0.103px">$0</div>
<div class="t val" style="left:1235.39px;top:1161.15px;letter-spacing:0.103px">$0</div>
<div class="t val" style="left:1356.39px;top:1161.15px;letter-spacing:0.103px">$0</div>
<div class="t val" style="left:1477.39px;top:1161.15px;letter-spacing:0.103px">$0</div>
<div class="t val" style="left:1599.39px;top:1161.15px;letter-spacing:0.103px">$0</div>
<div class="t val" style="left:1720.39px;top:1161.15px;letter-spacing:0.103px">$0</div>
<div class="t label" style="left:63.49px;top:1195.15px;letter-spacing:0.524px">Student Loans</div>
<div class="t val" style="left:354.91px;top:1195.15px;letter-spacing:0.753px">$9,500</div>
<div class="t val" style="left:476.91px;top:1195.15px;letter-spacing:0.753px">$9,300</div>
<div class="t val" style="left:597.91px;top:1195.15px;letter-spacing:0.753px">$9,100</div>
<div class="t val" style="left:718.91px;top:1195.15px;letter-spacing:0.753px">$8,900</div>
<div class="t val" style="left:840.91px;top:1195.15px;letter-spacing:0.753px">$8,700</div>
<div class="t val" style="left:961.91px;top:1195.15px;letter-spacing:0.753px">$8,500</div>
<div class="t val" style="left:1082.91px;top:1195.15px;letter-spacing:0.753px">$8,300</div>
<div class="t val" style="left:1204.91px;top:1195.15px;letter-spacing:0.753px">$8,100</div>
<div class="t val" style="left:1325.91px;top:1195.15px;letter-spacing:0.753px">$7,900</div>
<div class="t val" style="left:1446.91px;top:1195.15px;letter-spacing:0.753px">$7,700</div>
<div class="t val" style="left:1568.91px;top:1195.15px;letter-spacing:0.753px">$8,000</div>
<div class="t val" style="left:1689.91px;top:1195.15px;letter-spacing:0.753px">$8,000</div>
<div class="t label" style="left:63.29px;top:1229.15px;letter-spacing:0.474px">Credit Card 1</div>
<div class="t val" style="left:354.91px;top:1229.15px;letter-spacing:0.753px">$1,800</div>
<div class="t val" style="left:476.91px;top:1229.15px;letter-spacing:0.753px">$1,500</div>
<div class="t val" style="left:597.91px;top:1229.15px;letter-spacing:0.753px">$1,200</div>
<div class="t val" style="left:718.91px;top:1229.15px;letter-spacing:0.753px">$1,600</div>
<div class="t val" style="left:840.91px;top:1229.15px;letter-spacing:0.753px">$1,400</div>
<div class="t val" style="left:961.91px;top:1229.15px;letter-spacing:0.753px">$1,100</div>
<div class="t val" style="left:1082.91px;top:1229.15px;letter-spacing:0.753px">$1,500</div>
<div class="t val" style="left:1204.91px;top:1229.15px;letter-spacing:0.753px">$1,200</div>
<div class="t val" style="left:1338.62px;top:1229.15px;letter-spacing:0.836px">$900</div>
<div class="t val" style="left:1446.91px;top:1229.15px;letter-spacing:0.753px">$1,300</div>
<div class="t val" style="left:1568.91px;top:1229.15px;letter-spacing:0.753px">$1,000</div>
<div class="t val" style="left:1689.91px;top:1229.15px;letter-spacing:0.753px">$2,000</div>
<div class="t label" style="left:63.29px;top:1263.15px;letter-spacing:0.474px">Credit Card 2</div>
<div class="t val" style="left:367.62px;top:1263.15px;letter-spacing:0.836px">$500</div>
<div class="t val" style="left:489.62px;top:1263.15px;letter-spacing:0.836px">$400</div>
<div class="t val" style="left:610.62px;top:1263.15px;letter-spacing:0.836px">$300</div>
<div class="t val" style="left:731.62px;top:1263.15px;letter-spacing:0.836px">$200</div>
<div class="t val" style="left:853.62px;top:1263.15px;letter-spacing:0.836px">$100</div>
<div class="t val" style="left:992.39px;top:1263.15px;letter-spacing:0.103px">$0</div>
<div class="t val" style="left:1113.39px;top:1263.15px;letter-spacing:0.103px">$0</div>
<div class="t val" style="left:1235.39px;top:1263.15px;letter-spacing:0.103px">$0</div>
<div class="t val" style="left:1356.39px;top:1263.15px;letter-spacing:0.103px">$0</div>
<div class="t val" style="left:1477.39px;top:1263.15px;letter-spacing:0.103px">$0</div>
<div class="t val" style="left:1599.39px;top:1263.15px;letter-spacing:0.103px">$0</div>
<div class="t val" style="left:1720.39px;top:1263.15px;letter-spacing:0.103px">$0</div>
</div></body></html>
